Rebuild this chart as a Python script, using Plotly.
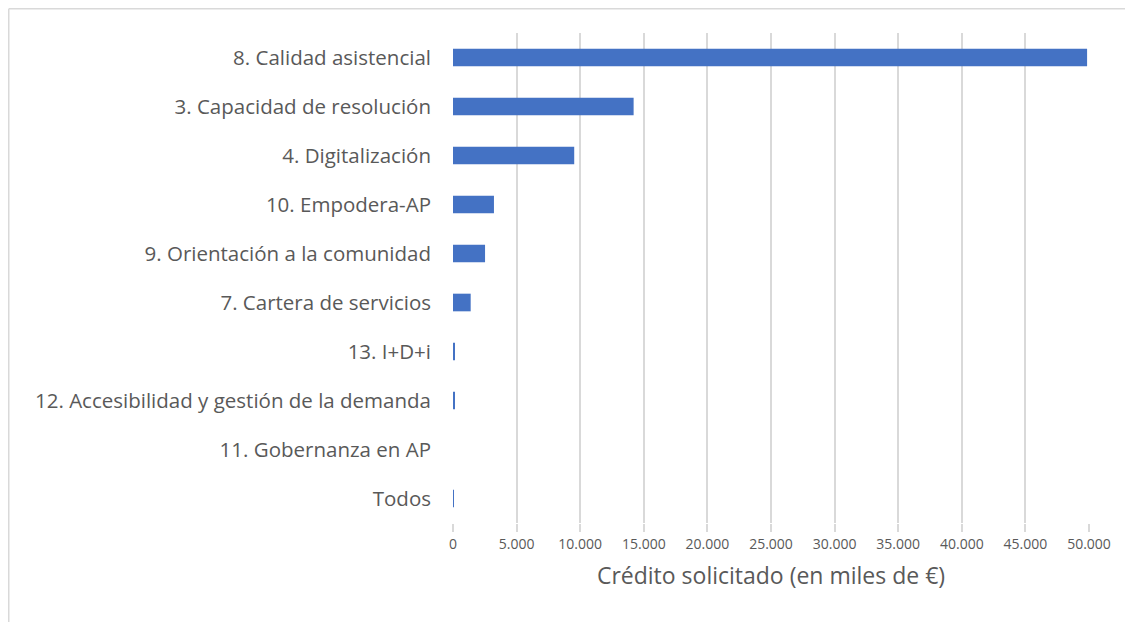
import plotly.graph_objects as go

# Líneas estratégicas (de arriba a abajo) y crédito solicitado en miles de €
lineas = [
    "8. Calidad asistencial",
    "3. Capacidad de resolución",
    "4. Digitalización",
    "10. Empodera-AP",
    "9. Orientación a la comunidad",
    "7. Cartera de servicios",
    "13. I+D+i",
    "12. Accesibilidad y gestión de la demanda",
    "11. Gobernanza en AP",
    "Todos",
]
credito = [49850, 14200, 9530, 3220, 2520, 1390, 130, 130, 0, 60]
x_ticks = [0, 5000, 10000, 15000, 20000, 25000, 30000, 35000, 40000, 45000, 50000]

GRIS = "#595959"
REJILLA = "#d9d9d9"

fig = go.Figure(go.Bar(
    x=credito, y=lineas, orientation="h",
    marker=dict(color="#4472c4", line=dict(width=0)),
))

# área de trazado en píxeles de la figura (la página añade 8 px de margen)
W, H = 1133, 622
L, R, T, B = 445, 1081, 25, 515
px = lambda v: (v - L) / (R - L)
py = lambda v: (B - v) / (B - T)
# marco del área de gráfico (parcialmente recortado en la imagen)
fig.add_shape(type="line", xref="paper", yref="paper", x0=px(0.75), x1=px(W + 20), y0=py(0.75), y1=py(0.75),
              line=dict(color=REJILLA, width=1.5))
fig.add_shape(type="line", xref="paper", yref="paper", x0=px(0.75), x1=px(0.75), y0=py(0.75), y1=py(H + 20),
              line=dict(color=REJILLA, width=1.5))

fig.update_xaxes(range=[0, 50000], tickvals=x_ticks, tickformat=",d",
                 showgrid=True, gridcolor=REJILLA, gridwidth=1.5,
                 zeroline=False, showline=False,
                 ticks="outside", ticklen=8, tickcolor=REJILLA, tickwidth=1.5,
                 tickfont=dict(size=14, color=GRIS),
                 title=dict(text="Crédito solicitado (en miles de €)", standoff=16,
                            font=dict(size=23, color=GRIS)))
fig.update_yaxes(autorange="reversed", showgrid=False, showline=False, zeroline=False,
                 ticks="", ticklabelstandoff=21,
                 tickfont=dict(size=20.5, color=GRIS))

fig.update_layout(
    width=W, height=H, bargap=0.64,
    separators=",.",
    font=dict(family="Open Sans"),
    plot_bgcolor="white", paper_bgcolor="white",
    margin=dict(l=L, r=W - R, t=T, b=H - B, autoexpand=False),
    showlegend=False,
)

fig.write_html("out.html")
